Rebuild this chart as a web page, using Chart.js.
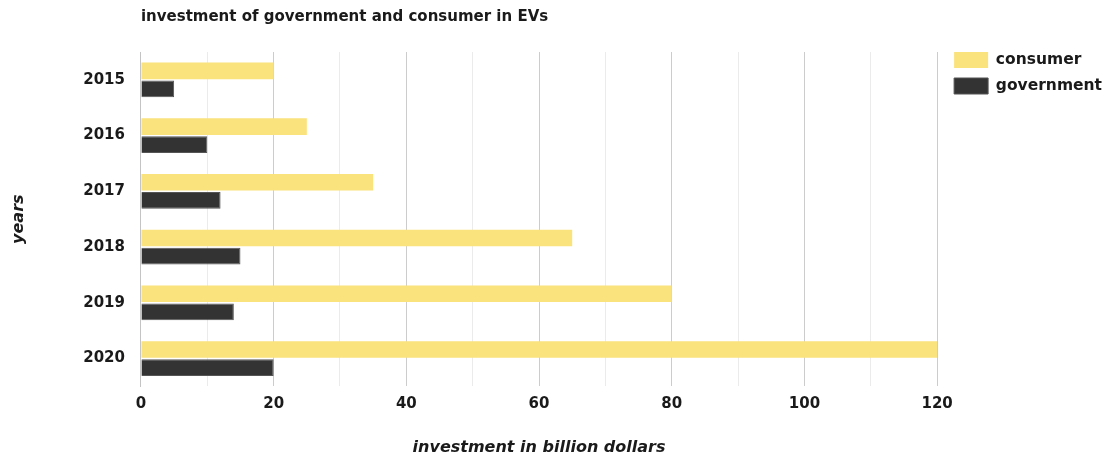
<!DOCTYPE html>
<html>
<head>
<meta charset="utf-8">
<script src="https://cdn.jsdelivr.net/npm/chart.js@4.4.1/dist/chart.umd.min.js"></script>
<style>
  html, body { margin: 0; padding: 0; background: #ffffff; }
  #wrap { width: 1105px; height: 457px; }
</style>
</head>
<body>
<div id="wrap"><canvas id="c" width="1105" height="457"></canvas></div>
<script>
const years = ["2015", "2016", "2017", "2018", "2019", "2020"];
const consumer = [20, 25, 35, 65, 80, 120];
const government = [5, 10, 12, 15, 14, 20];
const seriesNames = ["consumer", "government"];
const chartTitle = "investment of government and consumer in EVs";
const xTitle = "investment in billion dollars";
const yTitle = "years";

const FONT = "'DejaVu Sans', 'Liberation Sans', sans-serif";
const TEXT = "#1a1a1a";

const legendNudge = {
  id: 'legendNudge',
  afterLayout(chart) {
    const lg = chart.legend;
    if (!lg) return;
    lg.left += 7; lg.right += 7;
    lg.top += 42; lg.bottom += 42;
  }
};

new Chart(document.getElementById('c'), {
  type: 'bar',
  data: {
    labels: years,
    datasets: [
      { label: seriesNames[0], data: consumer, backgroundColor: '#fae27c', borderWidth: 0 },
      { label: seriesNames[1], data: government, backgroundColor: '#333333', borderColor: '#555555', borderWidth: 1 }
    ]
  },
  options: {
    indexAxis: 'y',
    responsive: false,
    animation: false,
    categoryPercentage: 0.65,
    barPercentage: 0.92,
    layout: { padding: 0 },
    plugins: {
      title: {
        display: true,
        text: chartTitle,
        align: 'start',
        fullSize: false,
        color: TEXT,
        font: { family: FONT, size: 15, weight: 'bold', lineHeight: 1.2 },
        padding: { top: 8, bottom: 26 }
      },
      legend: {
        position: 'right',
        align: 'start',
        maxWidth: 168,
        labels: {
          boxWidth: 34,
          boxHeight: 16,
          padding: 10,
          color: TEXT,
          font: { family: FONT, size: 15.5, weight: 'bold' }
        }
      },
      tooltip: { enabled: false }
    },
    scales: {
      x: {
        min: 0,
        max: 120,
        ticks: {
          stepSize: 10,
          autoSkip: false,
          maxRotation: 0,
          padding: 9,
          color: TEXT,
          font: { family: FONT, size: 15, weight: 'bold' },
          callback: (v) => (v % 20 === 0 ? String(v) : '')
        },
        grid: {
          drawTicks: false,
          color: (ctx) => (ctx.tick && ctx.tick.value % 20 === 0 ? '#cccccc' : '#ebebeb'),
          lineWidth: 1
        },
        border: { display: false },
        title: {
          display: true,
          text: xTitle,
          color: TEXT,
          font: { family: FONT, size: 16, weight: 'bold', style: 'italic', lineHeight: 1.1 },
          padding: { top: 17, bottom: 0 }
        }
      },
      y: {
        ticks: {
          padding: 16,
          color: TEXT,
          font: { family: FONT, size: 15, weight: 'bold' }
        },
        grid: { display: false, drawTicks: false },
        border: { display: true, color: '#c4c4c4' },
        title: {
          display: true,
          text: yTitle,
          color: TEXT,
          font: { family: FONT, size: 16, weight: 'bold', style: 'italic', lineHeight: 1.2 },
          padding: { top: 9, bottom: 39 }
        }
      }
    }
  },
  plugins: [legendNudge]
});
</script>
</body>
</html>
